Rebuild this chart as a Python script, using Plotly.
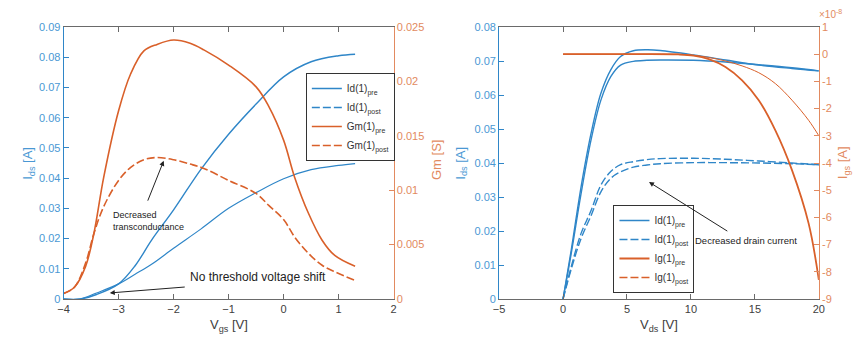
import plotly.graph_objects as go

# ---------------- Left panel data (transfer curves) ----------------
vgs_id = [-4.0, -3.7, -3.4, -3.0, -2.7, -2.4, -2.0, -1.5, -1.0, -0.5, 0.0, 0.5, 1.0, 1.3]
id_pre = [0.0, 0.0, 0.0015, 0.005, 0.011, 0.0195, 0.0295, 0.043, 0.0545, 0.0645, 0.0735, 0.0785, 0.0805, 0.0810]
id_post = [0.0, 0.0, 0.002, 0.005, 0.0082, 0.0115, 0.0168, 0.0232, 0.0300, 0.0352, 0.0398, 0.0428, 0.0442, 0.0448]

vgs_gm = [-4.0, -3.8, -3.6, -3.45, -3.27, -3.0, -2.78, -2.54, -2.3, -2.0, -1.7, -1.45, -1.0, -0.5, -0.27, 0.0, 0.2, 0.45, 0.7, 0.93, 1.3]
gm_pre = [0.0005, 0.0011, 0.003, 0.006, 0.0112, 0.0173, 0.0207, 0.0228, 0.0234, 0.0238, 0.0235, 0.0229, 0.0215, 0.0195, 0.0177, 0.0146, 0.0112, 0.0079, 0.0054, 0.0040, 0.0030]
gm_post = [0.0005, 0.0011, 0.0033, 0.006, 0.0085, 0.0109, 0.0121, 0.0128, 0.0130, 0.0128, 0.0124, 0.0120, 0.0109, 0.0097, 0.0086, 0.0073, 0.0057, 0.0042, 0.0031, 0.0025, 0.0017]

# ---------------- Right panel data (output curves) ----------------
vds = [0.0, 0.64, 1.41, 2.19, 2.96, 3.73, 4.5, 5.5, 6.56, 7.6, 10.2, 12.7, 15.3, 17.9, 20.0]
id_pre_a = [0.0, 0.0144, 0.033, 0.0487, 0.0605, 0.0674, 0.0713, 0.0730, 0.0733, 0.0731, 0.0718, 0.0703, 0.0688, 0.0678, 0.0671]
id_pre_b = [0.0, 0.0134, 0.031, 0.0468, 0.0585, 0.0654, 0.0688, 0.0699, 0.0702, 0.0703, 0.0702, 0.0697, 0.0689, 0.0680, 0.0671]
id_post_a = [0.0, 0.0095, 0.0193, 0.026, 0.0335, 0.0375, 0.0395, 0.0404, 0.0410, 0.0413, 0.0414, 0.0411, 0.0406, 0.0400, 0.0395]
id_post_b = [0.0, 0.0088, 0.0178, 0.0245, 0.0315, 0.0355, 0.0374, 0.0388, 0.0394, 0.0398, 0.0401, 0.0401, 0.0400, 0.0398, 0.0395]

vds_ig = [0.0, 5.0, 9.0, 10.2, 11.4, 12.7, 14.0, 15.3, 16.6, 17.9, 19.2, 20.0]
ig_pre = [0.0, 0.0, -0.01, -0.05, -0.18, -0.47, -0.96, -1.69, -2.8, -4.26, -6.22, -8.3]
ig_post = [0.0, 0.0, 0.0, -0.04, -0.12, -0.25, -0.43, -0.68, -1.08, -1.69, -2.43, -3.0]

# ---------------- Tick labels ----------------
x1_ticks = [-4, -3, -2, -1, 0, 1, 2]
y1_ticks = [0, 0.01, 0.02, 0.03, 0.04, 0.05, 0.06, 0.07, 0.08, 0.09]
y1_text = ["0", "0.01", "0.02", "0.03", "0.04", "0.05", "0.06", "0.07", "0.08", "0.09"]
y2_ticks = [0, 0.005, 0.01, 0.015, 0.02, 0.025]
y2_text = ["0", "0.005", "0.01", "0.015", "0.02", "0.025"]
x2_ticks = [-5, 0, 5, 10, 15, 20]
y3_ticks = y1_ticks[:9]
y3_text = y1_text[:9]
y4_ticks = [1, 0, -1, -2, -3, -4, -5, -6, -7, -8, -9]
y4_text = ["1", "0", "-1", "-2", "-3", "-4", "-5", "-6", "-7", "-8", "-9"]

BLUE = "#2f86c8"
ORANGE = "#d9602a"
BLUE_T = "#4a98d4"
ORANGE_T = "#e28a60"
GRAY = "#6a6a6a"
FONT = "Liberation Sans, Arial, sans-serif"
DASH = "8px,3px"

# The page body has an 8px margin, so the figure is drawn 8px smaller and all
# pixel positions are measured relative to (8, 8).
W, H = 855, 329
OFF = 8


def px(xpix):
    return (xpix - OFF) / W


def py(ypix):
    return (299 - ypix) / 272


fig = go.Figure()

# Left panel
fig.add_trace(go.Scatter(x=vgs_id, y=id_pre, mode="lines", line=dict(color=BLUE, width=1.4, shape="spline"),
                         name="Id(1)<sub>pre</sub>", xaxis="x", yaxis="y", legend="legend"))
fig.add_trace(go.Scatter(x=vgs_id, y=id_post, mode="lines", line=dict(color=BLUE, width=1.2, shape="spline"),
                         name="Id(1)<sub>post</sub>", xaxis="x", yaxis="y", legend="legend", showlegend=False))
fig.add_trace(go.Scatter(x=[None], y=[None], mode="lines", line=dict(color=BLUE, width=1.4, dash=DASH),
                         name="Id(1)<sub>post</sub>", xaxis="x", yaxis="y", legend="legend"))
fig.add_trace(go.Scatter(x=vgs_gm, y=gm_pre, mode="lines", line=dict(color=ORANGE, width=1.6, shape="spline"),
                         name="Gm(1)<sub>pre</sub>", xaxis="x", yaxis="y2", legend="legend"))
fig.add_trace(go.Scatter(x=vgs_gm, y=gm_post, mode="lines", line=dict(color=ORANGE, width=1.6, dash=DASH, shape="spline"),
                         name="Gm(1)<sub>post</sub>", xaxis="x", yaxis="y2", legend="legend"))

# Right panel
fig.add_trace(go.Scatter(x=vds, y=id_pre_a, mode="lines", line=dict(color=BLUE, width=1.4, shape="spline"),
                         name="Id(1)<sub>pre</sub>", xaxis="x2", yaxis="y3", legend="legend2"))
fig.add_trace(go.Scatter(x=vds, y=id_pre_b, mode="lines", line=dict(color=BLUE, width=1.4, shape="spline"),
                         showlegend=False, xaxis="x2", yaxis="y3", legend="legend2"))
fig.add_trace(go.Scatter(x=vds, y=id_post_a, mode="lines", line=dict(color=BLUE, width=1.4, dash=DASH, shape="spline"),
                         name="Id(1)<sub>post</sub>", xaxis="x2", yaxis="y3", legend="legend2"))
fig.add_trace(go.Scatter(x=vds, y=id_post_b, mode="lines", line=dict(color=BLUE, width=1.4, dash=DASH, shape="spline"),
                         showlegend=False, xaxis="x2", yaxis="y3", legend="legend2"))
fig.add_trace(go.Scatter(x=vds_ig, y=ig_pre, mode="lines", line=dict(color=ORANGE, width=1.8, shape="spline"),
                         name="Ig(1)<sub>pre</sub>", xaxis="x2", yaxis="y4", legend="legend2"))
fig.add_trace(go.Scatter(x=vds_ig, y=ig_post, mode="lines", line=dict(color=ORANGE, width=1.0, shape="spline"),
                         showlegend=False, xaxis="x2", yaxis="y4", legend="legend2"))
fig.add_trace(go.Scatter(x=[None], y=[None], mode="lines", line=dict(color=ORANGE, width=1.4, dash=DASH),
                         name="Ig(1)<sub>post</sub>", xaxis="x2", yaxis="y4", legend="legend2"))


def xax(domain, rng, tv, anchor):
    return dict(domain=domain, range=rng, tickvals=tv, ticks="inside", ticklen=5, tickcolor=GRAY,
                showline=True, linecolor=GRAY, linewidth=1, mirror="ticks", showgrid=False, zeroline=False,
                tickfont=dict(family=FONT, size=11, color="#404040"), anchor=anchor)


def yax(rng, tv, tt, color, tcolor, side="left", overlaying=None, anchor=None):
    d = dict(range=rng, tickvals=tv, ticktext=tt, ticks="inside", ticklen=5, tickcolor=color,
             showline=True, linecolor=color, linewidth=1, showgrid=False, zeroline=False, side=side,
             tickfont=dict(family=FONT, size=11, color=tcolor), anchor=anchor)
    if overlaying:
        d["overlaying"] = overlaying
    return d


fig.update_layout(
    width=W, height=H,
    margin=dict(l=0, r=0, t=27 - OFF, b=38),
    paper_bgcolor="white", plot_bgcolor="white",
    font=dict(family=FONT),
    xaxis=xax([px(58.3), px(393)], [-4, 2], x1_ticks, "y"),
    yaxis=yax([0, 0.09], y1_ticks, y1_text, BLUE, BLUE_T, anchor="x"),
    yaxis2=yax([0, 0.025], y2_ticks, y2_text, ORANGE_T, ORANGE_T, side="right", overlaying="y", anchor="x"),
    xaxis2=xax([px(500), px(824.3)], [-5, 20], x2_ticks, "y3"),
    yaxis3=yax([0, 0.08], y3_ticks, y3_text, BLUE, BLUE_T, anchor="x2"),
    yaxis4=yax([-9, 1], y4_ticks, y4_text, ORANGE_T, ORANGE_T, side="right", overlaying="y3", anchor="x2"),
    legend=dict(x=px(304), y=py(73), xanchor="left", yanchor="top", bgcolor="white",
                bordercolor="#333333", borderwidth=1, font=dict(family=FONT, size=10, color="#333333"),
                itemwidth=30, tracegroupgap=0),
    legend2=dict(x=px(616), y=py(205), xanchor="left", yanchor="top", bgcolor="white",
                 bordercolor="#333333", borderwidth=1, font=dict(family=FONT, size=10, color="#333333"),
                 itemwidth=30, tracegroupgap=0),
    showlegend=True,
)


def label(text, xp, yp, color, angle=0, size=13):
    return dict(text=text, x=px(xp), y=py(yp), xref="paper", yref="paper", textangle=angle,
                xanchor="center", yanchor="middle", showarrow=False,
                font=dict(size=size, color=color, family=FONT))


ann = []
# axis titles
ann.append(label("I<sub>ds</sub> [A]", 22, 163, BLUE_T, -90))
ann.append(label("V<sub>gs</sub> [V]", 226, 325, "#404040"))
ann.append(label("Gm [S]", 436, 160, ORANGE_T, -90))
ann.append(label("I<sub>ds</sub> [A]", 461, 163, BLUE_T, -90))
ann.append(label("I<sub>gs</sub> [A]", 849, 163, ORANGE_T, -90))
ann.append(label("V<sub>ds</sub> [V]", 662, 325, "#404040"))
ann.append(label("\u00d710<sup>-8</sup>", 836, 14, ORANGE_T, 0, 10))

# callouts
ann.append(dict(x=-3.16, y=0.002, ax=-1.77, ay=0.004, xref="x", yref="y", axref="x", ayref="y",
                showarrow=True, arrowhead=2, arrowsize=1, arrowwidth=1, arrowcolor="#222222", text=""))
ann.append(dict(text="No threshold voltage shift", x=-0.46, y=0.0073, xref="x", yref="y", showarrow=False,
                xanchor="center", yanchor="middle", font=dict(size=12, color="#222222", family=FONT)))
ann.append(dict(x=-2.18, y=0.0127, ax=-2.48, ay=0.0089, xref="x", yref="y2", axref="x", ayref="y2",
                showarrow=True, arrowhead=2, arrowsize=1, arrowwidth=1, arrowcolor="#222222", text=""))
ann.append(dict(text="Decreased<br>transconductance", x=-3.13, y=0.0072, xref="x", yref="y2", xanchor="left",
                yanchor="middle", align="left", showarrow=False, font=dict(size=9, color="#222222", family=FONT)))
ann.append(dict(x=6.72, y=0.0344, ax=12.96, ay=0.0197, xref="x2", yref="y3", axref="x2", ayref="y3",
                showarrow=True, arrowhead=2, arrowsize=1, arrowwidth=1, arrowcolor="#222222", text=""))
ann.append(dict(text="Decreased drain current", x=10.15, y=0.0171, xref="x2", yref="y3", xanchor="left",
                yanchor="middle", showarrow=False, font=dict(size=9.5, color="#222222", family=FONT)))

fig.update_layout(annotations=ann)
fig.write_html("out.html")
